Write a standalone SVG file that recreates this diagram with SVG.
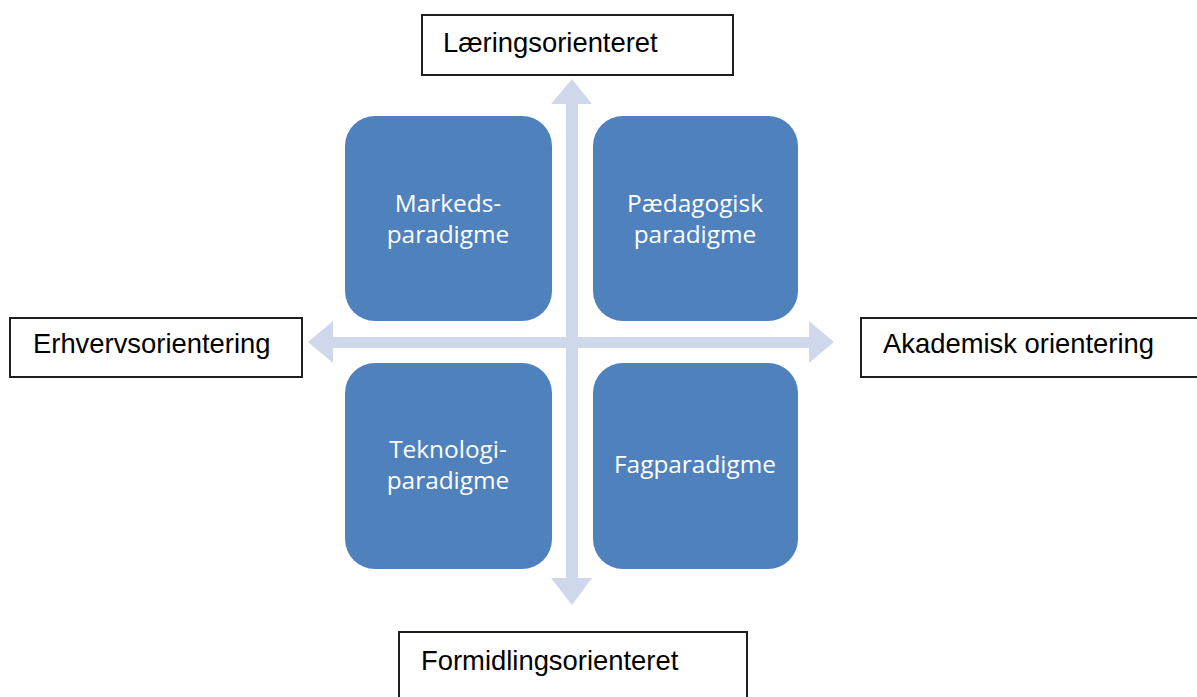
<svg xmlns="http://www.w3.org/2000/svg" width="1197" height="697" viewBox="0 0 1197 697">
  <style>
    .axis-label rect { fill: #ffffff; stroke: #1e1e1e; stroke-width: 2; }
    .axis-label text { font-family: "Liberation Sans", Arial, sans-serif; font-size: 27.4px; fill: #000000; }
    .quad rect { fill: #4f81bd; }
    .quad text { font-family: "Open Sans", "Noto Sans", sans-serif; font-size: 24.4px; fill: #ffffff; text-anchor: middle; }
    .arrow { fill: #cfd8ea; }
  </style>

  <!-- crossing double-headed axes -->
  <g id="connectors">
    <path class="arrow" d="M572 79 L592 104 L578 104 L578 578 L592 578 L572 605 L551 578 L566 578 L566 104 L551 104 Z"/>
    <path class="arrow" d="M308 342 L333 321 L333 337 L809 337 L809 321 L834 342 L809 363 L809 348 L333 348 L333 363 Z"/>
  </g>

  <!-- quadrants -->
  <g id="markeds" class="quad">
    <rect x="345" y="116" width="207" height="205" rx="30" ry="30"/>
    <text x="448" y="212">Markeds-</text>
    <text x="448" y="243">paradigme</text>
  </g>
  <g id="paedagogisk" class="quad">
    <rect x="593" y="116" width="205" height="205" rx="30" ry="30"/>
    <text x="695" y="212">Pædagogisk</text>
    <text x="695" y="243">paradigme</text>
  </g>
  <g id="teknologi" class="quad">
    <rect x="345" y="363" width="207" height="206" rx="30" ry="30"/>
    <text x="448" y="458">Teknologi-</text>
    <text x="448" y="489">paradigme</text>
  </g>
  <g id="fag" class="quad">
    <rect x="593" y="363" width="205" height="206" rx="30" ry="30"/>
    <text x="695" y="473">Fagparadigme</text>
  </g>

  <!-- axis labels -->
  <g id="laering" class="axis-label">
    <rect x="422" y="15" width="311" height="60"/>
    <text x="443" y="52">Læringsorienteret</text>
  </g>
  <g id="erhverv" class="axis-label">
    <rect x="10" y="318" width="292" height="59"/>
    <text x="33" y="353">Erhvervsorientering</text>
  </g>
  <g id="akademisk" class="axis-label">
    <rect x="861" y="318" width="345" height="59"/>
    <text x="883" y="353">Akademisk orientering</text>
  </g>
  <g id="formidling" class="axis-label">
    <rect x="399" y="632" width="348" height="80"/>
    <text x="421" y="670">Formidlingsorienteret</text>
  </g>
</svg>
